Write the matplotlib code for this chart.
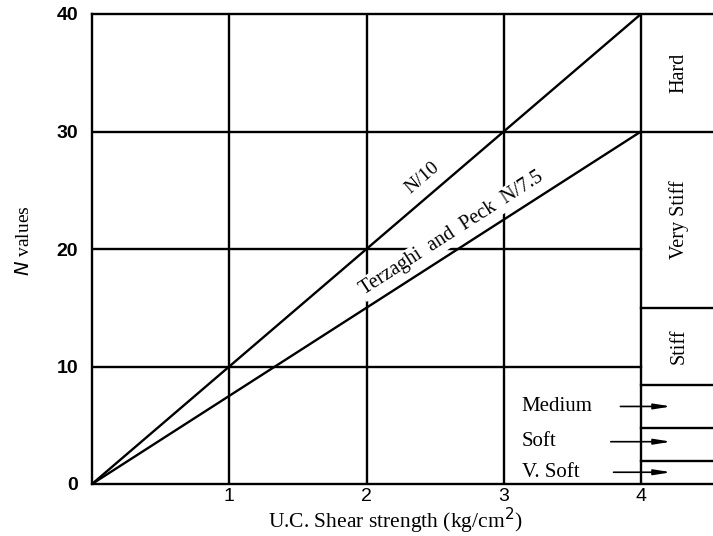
import matplotlib
matplotlib.use("Agg")
import matplotlib.pyplot as plt

# data
strength = [0, 4]
n_over_10 = [0, 40]          # N/10 line
terzaghi = [0, 30]           # Terzaghi and Peck N/7.5
xticks = [1, 2, 3, 4]
yticks = [0, 10, 20, 30, 40]

# consistency zones on the right strip (N boundaries)
zone_edges = [2.0, 4.75, 8.4, 15, 30]
big_zones = ["Hard", "Very Stiff", "Stiff"]
big_zone_mid = [35, 22.5, 11.7]
small_zones = ["Medium", "Soft", "V. Soft"]
small_zone_y = [6.6, 3.6, 1.0]
arrow_start = [3.85, 3.78, 3.80]

serif = "Liberation Serif"
sans = "Liberation Sans"
lw = 1.7

fig = plt.figure(figsize=(7.13, 5.36), dpi=100)
ax = fig.add_axes([92/713, 52/536, (713-92)/713, (484-14)/536])
xmax = (713 - 92) / 137.25
ax.set_xlim(0, xmax)
ax.set_ylim(0, 40)

for s in ["left", "top", "bottom"]:
    ax.spines[s].set_linewidth(lw)
ax.spines["right"].set_visible(False)
ax.tick_params(axis="x", length=0, pad=3)
ax.tick_params(axis="y", length=0, pad=10)

# grid
for x in xticks[:-1]:
    ax.plot([x, x], [0, 40], color="black", lw=lw, zorder=1)
ax.plot([4, 4], [0, 40], color="black", lw=lw, zorder=1)
for y in [10, 20]:
    ax.plot([0, 4], [y, y], color="black", lw=lw, zorder=1)
ax.plot([0, xmax], [30, 30], color="black", lw=lw, zorder=1)
for y in zone_edges[:-1]:
    ax.plot([4, xmax], [y, y], color="black", lw=lw, zorder=1)

# correlation lines
ax.plot(strength, n_over_10, color="black", lw=lw, zorder=2)
ax.plot(strength, terzaghi, color="black", lw=lw, zorder=2)

ax.text(2.43, 25.8, "N/10", rotation=40.6, ha="center", va="baseline",
        family=serif, fontsize=14, rotation_mode="anchor")
ax.text(2.64, 21.0, "Terzaghi  and  Peck  N/7.5", rotation=32.7, ha="center",
        va="baseline", family=serif, fontsize=14.5, rotation_mode="anchor",
        bbox=dict(facecolor="white", edgecolor="none", pad=1.5), zorder=3)

# zone labels
for name, ym in zip(big_zones, big_zone_mid):
    ax.text(4.28, ym, name, rotation=90, ha="center", va="center",
            family=serif, fontsize=14.5)
for name, ym, xs in zip(small_zones, small_zone_y, arrow_start):
    ax.text(3.13, ym, name, ha="left", va="center", family=serif, fontsize=15)
    ax.annotate("", xy=(4.22, ym), xytext=(xs, ym),
                arrowprops=dict(arrowstyle="-|>,head_length=1.0,head_width=0.16",
                                color="black", lw=1.2, shrinkA=0, shrinkB=0))

ax.set_xticks(xticks)
ax.set_yticks(yticks)
ax.set_xticklabels([str(t) for t in xticks], family=sans, fontsize=14)
ax.set_yticklabels([str(t) for t in yticks], family=sans, fontsize=14,
                   fontweight="bold")

fig.text(395/713, 1 - 521/536, "U.C. Shear strength (kg/cm$^2$)",
         ha="center", va="center", family=serif, fontsize=15.5)
fig.text(24/713, 1 - 241/536, "$\\mathit{N}$ values", rotation=90,
         ha="center", va="center", family=serif, fontsize=14)

fig.savefig("out.png", dpi=100)
